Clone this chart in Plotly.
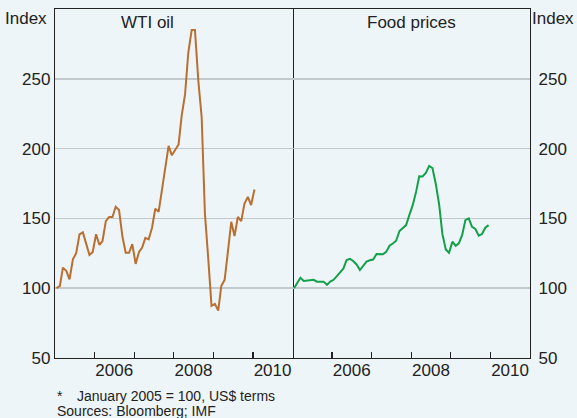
import pandas as pd
import plotly.graph_objects as go

# ---- data (monthly, Jan 2005 = 100, US$ terms) ----
wti_oil = [100, 101.6, 114.7, 112.4, 106.4, 120.7, 125, 138.6, 140, 132, 123.8, 126,
           138.6, 131, 133.8, 148, 151, 151, 158.3, 156, 137, 125.4, 125.4, 131.6,
           117.4, 126, 129, 136, 135, 143.3, 157, 154.7, 170.2, 183.3, 201.9, 195.2,
           198.8, 203, 223.8, 239, 269, 285, 285, 248.8, 222.6, 153.6, 121, 87.4,
           88.8, 84, 101.6, 106, 126, 147.6, 137.4, 151, 148, 160.7, 165.4, 159.5,
           170.7]
food_prices = [100, 103.5, 107.5, 105.2, 105.5, 105.8, 106, 104.7, 104.7, 104.7, 102.4, 104.7,
               106, 109, 111, 114, 120.2, 121, 119.5, 117, 113, 116, 119, 120,
               120.5, 124.5, 124.5, 124.3, 126, 130.4, 132, 134, 141, 143, 145.2, 152.4,
               159.5, 169, 180.2, 180, 182.5, 187.6, 186.1, 174.7, 159.8, 138.7, 127.8, 125.4,
               133.3, 130.4, 132.1, 138, 148.8, 150, 144, 142.4, 137.6, 138.8, 143.3, 145.2]
start_month = "2005-01-01"
panel_titles = ["WTI oil", "Food prices"]
year_labels = ["2006", "2008", "2010"]
year_ticks = ["2006", "2007", "2008", "2009", "2010"]
y_ticks = [50, 100, 150, 200, 250]
y_range = [50, 300]
x_range = ["2005-01-01", "2011-01-01"]
base_value = 100
footnote = "January 2005 = 100, US$ terms"
sources = "Sources: Bloomberg; IMF"

# ---- styling ----
BG = "#EEF5F8"
AXIS = "#222222"
GRID = "#C2C8CB"
TXT = "#222222"
FONT = "Liberation Sans, Arial, sans-serif"
OIL_C = "#B86F30"
FOOD_C = "#12A04A"


def month_dates(n):
    return pd.date_range(start_month, periods=n, freq="MS") + pd.Timedelta(days=14)


fig = go.Figure()
fig.add_trace(go.Scatter(x=month_dates(len(wti_oil)), y=wti_oil, mode="lines",
                         line=dict(color=OIL_C, width=2), xaxis="x", yaxis="y",
                         showlegend=False, hoverinfo="skip"))
fig.add_trace(go.Scatter(x=month_dates(len(food_prices)), y=food_prices, mode="lines",
                         line=dict(color=FOOD_C, width=2), xaxis="x2", yaxis="y2",
                         showlegend=False, hoverinfo="skip"))

xcommon = dict(
    type="date", range=x_range, showgrid=False, zeroline=False, automargin=False,
    showline=True, linecolor=AXIS, linewidth=1.2, mirror=True,
    tickmode="array", tickvals=[f"{y}-07-01" for y in year_labels], ticktext=year_labels,
    ticks="", ticklabelstandoff=-4, tickfont=dict(size=17, color=TXT, family=FONT),
    minor=dict(tickmode="array", tickvals=[f"{y}-01-01" for y in year_ticks],
               ticks="inside", ticklen=6, tickcolor=AXIS, tickwidth=1.2, showgrid=False),
)
ycommon = dict(
    range=y_range, tickmode="array", tickvals=y_ticks, ticktext=[str(v) for v in y_ticks],
    showgrid=True, gridcolor=GRID, gridwidth=1.5, zeroline=False, automargin=False,
    showline=True, linecolor=AXIS, linewidth=1.2, ticks="",
    tickfont=dict(size=17, color=TXT, family=FONT),
)

fig.update_layout(
    width=577, height=418,
    margin=dict(l=55, r=47, t=9, b=60, autoexpand=False),
    paper_bgcolor=BG, plot_bgcolor=BG,
    font=dict(family=FONT, color=TXT),
    xaxis=dict(domain=[0, 0.5], anchor="y", **xcommon),
    xaxis2=dict(domain=[0.5, 1], anchor="y2", **xcommon),
    # left panel draws its left line and the shared middle divider
    yaxis=dict(anchor="x", side="left", mirror=True, **ycommon),
    # right panel draws only its right line (divider already drawn)
    yaxis2=dict(anchor="x2", side="right", mirror=False, ticklabelstandoff=4, **ycommon),
)

# base (=100) line in each panel
for xr, yr in (("x domain", "y"), ("x2 domain", "y2")):
    fig.add_shape(type="line", xref=xr, yref=yr, x0=0, x1=1, y0=base_value, y1=base_value,
                  line=dict(color="#333333", width=1.3), layer="below")

# panel titles
fig.add_annotation(text=panel_titles[0], xref="paper", yref="paper", x=0.195, y=0.995,
                   xanchor="center", yanchor="top", showarrow=False,
                   font=dict(size=17, color=TXT, family=FONT))
fig.add_annotation(text=panel_titles[1], xref="paper", yref="paper", x=0.75, y=0.995,
                   xanchor="center", yanchor="top", showarrow=False,
                   font=dict(size=17, color=TXT, family=FONT))

# "Index" unit labels
fig.add_annotation(text="Index", xref="paper", yref="paper", x=-0.012, y=1.006,
                   xanchor="right", yanchor="top", showarrow=False,
                   font=dict(size=17, color=TXT, family=FONT))
fig.add_annotation(text="Index", xref="paper", yref="paper", x=1.0, y=1.006,
                   xanchor="left", yanchor="top", showarrow=False,
                   font=dict(size=17, color=TXT, family=FONT))

# footnotes
fig.add_annotation(text="*", xref="paper", yref="paper", x=0.0, y=-0.109,
                   xanchor="left", yanchor="middle", showarrow=False,
                   font=dict(size=14, color=TXT, family=FONT))
fig.add_annotation(text=footnote, xref="paper", yref="paper", x=0.042, y=-0.109,
                   xanchor="left", yanchor="middle", showarrow=False,
                   font=dict(size=14, color=TXT, family=FONT))
fig.add_annotation(text=sources, xref="paper", yref="paper", x=0.0, y=-0.152,
                   xanchor="left", yanchor="middle", showarrow=False,
                   font=dict(size=14, color=TXT, family=FONT))

fig.write_html(
    "out.html",
    config={"displayModeBar": False, "staticPlot": True},
    post_script=(
        "document.body.style.margin='0';"
        "document.body.style.overflow='hidden';"
        f"document.body.style.background='{BG}';"
    ),
)
